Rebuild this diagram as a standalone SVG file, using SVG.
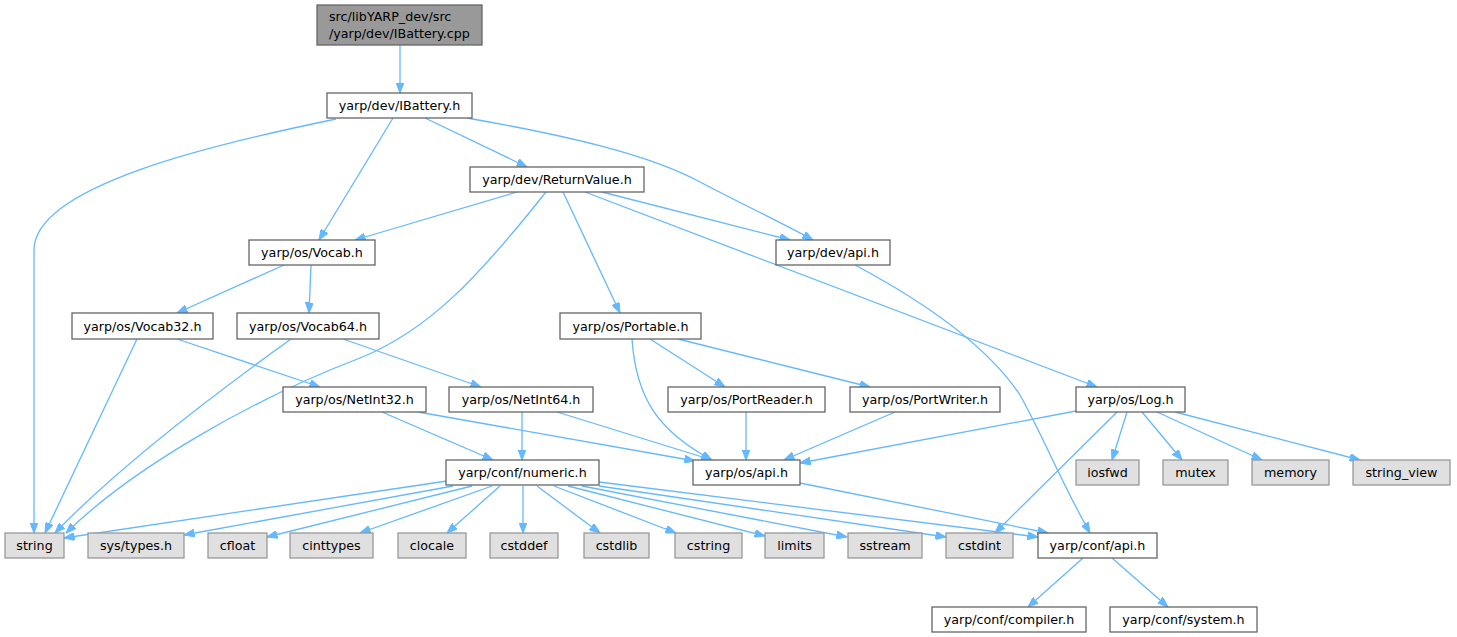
<svg xmlns="http://www.w3.org/2000/svg" width="1457" height="637" viewBox="0 0 1457 637">
<style>
.n rect{fill:#ffffff;stroke:#666666;stroke-width:1.3}
.s rect{fill:#e0e0e0;stroke:#999999;stroke-width:1.3}
.r rect{fill:#999999;stroke:#666666;stroke-width:1.3}
text{font-family:"DejaVu Sans","Liberation Sans",sans-serif;font-size:12.7px;fill:#000000}
.c{text-anchor:middle}
#edges path{fill:none;stroke:#63b8ff;stroke-width:1.3;marker-end:url(#ah)}
</style>
<defs>
<marker id="ah" markerUnits="userSpaceOnUse" markerWidth="11" markerHeight="8" refX="10.5" refY="4" orient="auto">
<path d="M0,0 L10.5,4 L0,8 Z" fill="#63b8ff" stroke="#63b8ff" stroke-width="1"/>
</marker>
</defs>
<rect width="1457" height="637" fill="#ffffff"/>
<g id="edges">
<path d="M400,45 V93"/>
<path d="M336,119 C220,143 34,185 34,250 V533"/>
<path d="M393,118 L319,240"/>
<path d="M425,118 L527,167"/>
<path d="M467,118 C570,136 650,155 700,182 C740,203 780,222 813,240"/>
<path d="M517,192 L355,240"/>
<path d="M546,192 C480,275 430,330 360,358 C250,400 130,470 66,533"/>
<path d="M602,192 L790,240"/>
<path d="M563,192 L620,313"/>
<path d="M585,192 L1097,387"/>
<path d="M855,265 C930,305 990,350 1020,395 C1045,440 1060,480 1090,533"/>
<path d="M284,265 L177,313"/>
<path d="M311,265 L309,313"/>
<path d="M137,339 L45,533"/>
<path d="M177,339 L320,387"/>
<path d="M291,339 C220,390 120,465 55,533"/>
<path d="M343,339 L481,387"/>
<path d="M632,339 C636,400 660,432 712,460"/>
<path d="M650,339 L725,387"/>
<path d="M678,339 L870,387"/>
<path d="M382,412 L493,460"/>
<path d="M418,412 L695,461"/>
<path d="M522,412 V460"/>
<path d="M557,412 L712,460"/>
<path d="M746,412 V460"/>
<path d="M895,412 L784,460"/>
<path d="M1076,411 L800,463"/>
<path d="M1117,412 L995,533"/>
<path d="M1127,412 L1112,460"/>
<path d="M1142,412 L1182,460"/>
<path d="M1157,412 L1262,460"/>
<path d="M1175,412 L1360,460"/>
<path d="M447,481 L64,538"/>
<path d="M453,486 L184,535"/>
<path d="M472,486 L267,537"/>
<path d="M492,486 L360,533"/>
<path d="M500,486 L447,533"/>
<path d="M523,486 V533"/>
<path d="M537,486 L600,533"/>
<path d="M554,486 L676,533"/>
<path d="M568,486 L765,536"/>
<path d="M582,486 L847,537"/>
<path d="M599,486 L946,537"/>
<path d="M599,482 C750,500 900,520 1038,537"/>
<path d="M800,483 L1048,533"/>
<path d="M1083,558 L1028,607"/>
<path d="M1112,558 L1168,607"/>
</g>
<g id="n_root" class="r"><rect x="317" y="5" width="165" height="40"/><text x="329" y="21">src/libYARP_dev/src</text><text x="329" y="38">/yarp/dev/IBattery.cpp</text></g>
<g id="n_ibattery" class="n"><rect x="327" y="93" width="145" height="25"/><text class="c" x="399.5" y="110">yarp/dev/IBattery.h</text></g>
<g id="n_returnvalue" class="n"><rect x="470" y="167" width="174" height="25"/><text class="c" x="557" y="184">yarp/dev/ReturnValue.h</text></g>
<g id="n_vocab" class="n"><rect x="249" y="240" width="126" height="25"/><text class="c" x="312" y="257">yarp/os/Vocab.h</text></g>
<g id="n_devapi" class="n"><rect x="776" y="240" width="114" height="25"/><text class="c" x="833" y="257">yarp/dev/api.h</text></g>
<g id="n_vocab32" class="n"><rect x="72" y="313" width="141" height="26"/><text class="c" x="142.5" y="330.5">yarp/os/Vocab32.h</text></g>
<g id="n_vocab64" class="n"><rect x="237" y="313" width="142" height="26"/><text class="c" x="308" y="330.5">yarp/os/Vocab64.h</text></g>
<g id="n_portable" class="n"><rect x="560" y="313" width="141" height="26"/><text class="c" x="630.5" y="330.5">yarp/os/Portable.h</text></g>
<g id="n_netint32" class="n"><rect x="283" y="387" width="143" height="25"/><text class="c" x="354.5" y="404">yarp/os/NetInt32.h</text></g>
<g id="n_netint64" class="n"><rect x="449" y="387" width="144" height="25"/><text class="c" x="521" y="404">yarp/os/NetInt64.h</text></g>
<g id="n_portreader" class="n"><rect x="668" y="387" width="157" height="25"/><text class="c" x="746.5" y="404">yarp/os/PortReader.h</text></g>
<g id="n_portwriter" class="n"><rect x="850" y="387" width="150" height="25"/><text class="c" x="925" y="404">yarp/os/PortWriter.h</text></g>
<g id="n_log" class="n"><rect x="1076" y="387" width="109" height="25"/><text class="c" x="1130.5" y="404">yarp/os/Log.h</text></g>
<g id="n_numeric" class="n"><rect x="446" y="460" width="153" height="25"/><text class="c" x="522.5" y="477">yarp/conf/numeric.h</text></g>
<g id="n_osapi" class="n"><rect x="693" y="460" width="107" height="25"/><text class="c" x="746.5" y="477">yarp/os/api.h</text></g>
<g id="n_iosfwd" class="s"><rect x="1076" y="460" width="63" height="25"/><text class="c" x="1107.5" y="477">iosfwd</text></g>
<g id="n_mutex" class="s"><rect x="1163" y="460" width="65" height="25"/><text class="c" x="1195.5" y="477">mutex</text></g>
<g id="n_memory" class="s"><rect x="1252" y="460" width="77" height="25"/><text class="c" x="1290.5" y="477">memory</text></g>
<g id="n_string_view" class="s"><rect x="1353" y="460" width="97" height="25"/><text class="c" x="1401.5" y="477">string_view</text></g>
<g id="n_string" class="s"><rect x="5" y="533" width="59" height="25"/><text class="c" x="34.5" y="550">string</text></g>
<g id="n_systypes" class="s"><rect x="88" y="533" width="96" height="25"/><text class="c" x="136" y="550">sys/types.h</text></g>
<g id="n_cfloat" class="s"><rect x="208" y="533" width="59" height="25"/><text class="c" x="237.5" y="550">cfloat</text></g>
<g id="n_cinttypes" class="s"><rect x="290" y="533" width="83" height="25"/><text class="c" x="331.5" y="550">cinttypes</text></g>
<g id="n_clocale" class="s"><rect x="398" y="533" width="68" height="25"/><text class="c" x="432" y="550">clocale</text></g>
<g id="n_cstddef" class="s"><rect x="490" y="533" width="68" height="25"/><text class="c" x="524" y="550">cstddef</text></g>
<g id="n_cstdlib" class="s"><rect x="584" y="533" width="65" height="25"/><text class="c" x="616.5" y="550">cstdlib</text></g>
<g id="n_cstring" class="s"><rect x="675" y="533" width="67" height="25"/><text class="c" x="708.5" y="550">cstring</text></g>
<g id="n_limits" class="s"><rect x="765" y="533" width="59" height="25"/><text class="c" x="794.5" y="550">limits</text></g>
<g id="n_sstream" class="s"><rect x="848" y="533" width="74" height="25"/><text class="c" x="885" y="550">sstream</text></g>
<g id="n_cstdint" class="s"><rect x="946" y="533" width="67" height="25"/><text class="c" x="979.5" y="550">cstdint</text></g>
<g id="n_confapi" class="n"><rect x="1038" y="533" width="119" height="25"/><text class="c" x="1097.5" y="550">yarp/conf/api.h</text></g>
<g id="n_compiler" class="n"><rect x="932" y="607" width="154" height="25"/><text class="c" x="1009" y="624">yarp/conf/compiler.h</text></g>
<g id="n_system" class="n"><rect x="1110" y="607" width="147" height="25"/><text class="c" x="1183.5" y="624">yarp/conf/system.h</text></g>
</svg>
